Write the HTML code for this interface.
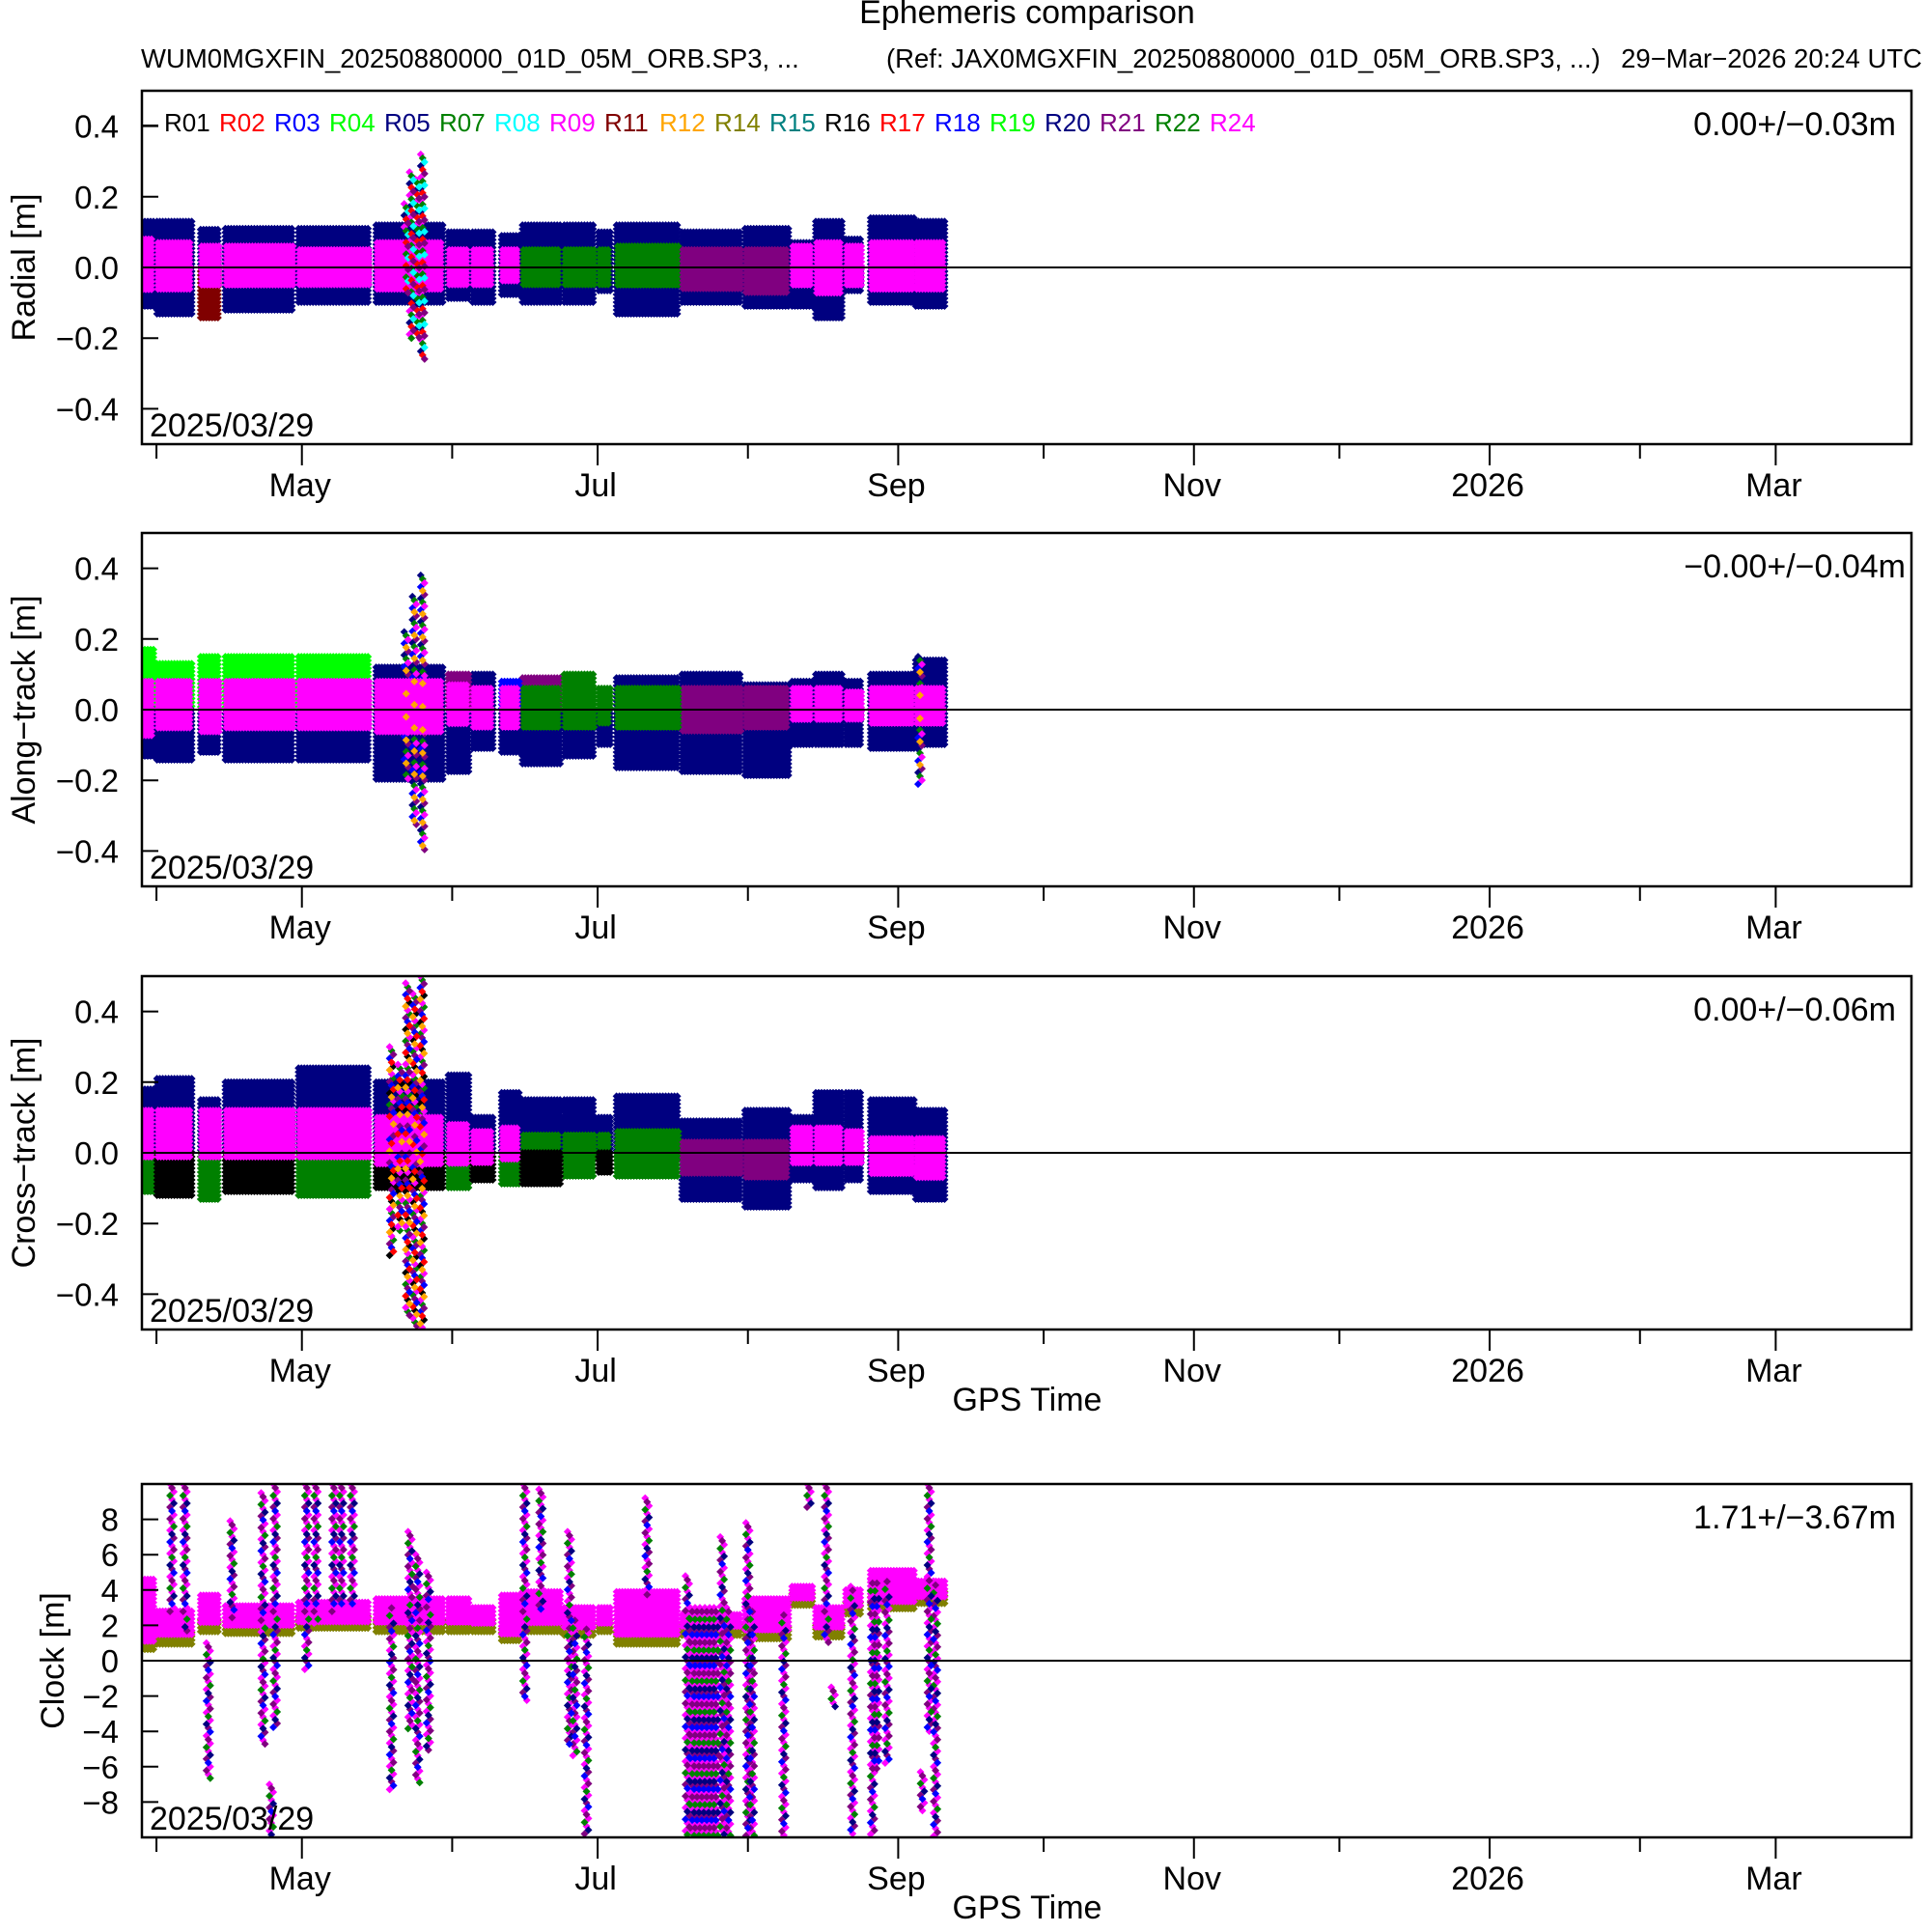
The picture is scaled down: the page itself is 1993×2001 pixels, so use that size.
<!DOCTYPE html>
<html><head><meta charset="utf-8"><title>Ephemeris comparison</title>
<style>
html,body{margin:0;padding:0;background:#fff;}
svg{display:block;font-family:"Liberation Sans",Arial,sans-serif;}
</style></head>
<body>
<svg id="chart" width="1993" height="2001" viewBox="0 0 1993 2001" xmlns="http://www.w3.org/2000/svg">
<text x="1064" y="24" font-size="34" text-anchor="middle">Ephemeris comparison</text>
<text x="146" y="70" font-size="27.5">WUM0MGXFIN_20250880000_01D_05M_ORB.SP3, ...</text>
<text x="918" y="70" font-size="27.5">(Ref: JAX0MGXFIN_20250880000_01D_05M_ORB.SP3, ...)</text>
<text x="1991" y="70" font-size="27.5" text-anchor="end">29−Mar−2026 20:24 UTC</text>
<g id="panels"></g>
</svg>
<script>
// ---- data ----
const sats = ["R01","R02","R03","R04","R05","R07","R08","R09","R11","R12","R14","R15","R16","R17","R18","R19","R20","R21","R22","R24"];
const satColors = ["#000000","#ff0000","#0000ff","#00ff00","#000080","#008000","#00ffff","#ff00ff","#800000","#ffa500","#808000","#008080","#000000","#ff0000","#0000ff","#00ff00","#000080","#800080","#008000","#ff00ff"];
const monthTickDays = [3,33,64,94,125,156,186,217,247,278,309,337];
const monthTickLabels = ["","May","","Jul","","Sep","","Nov","","2026","","Mar"];
const arcStart = [0,3.1,12.1,17.2,32.3,48.3,63.2,68.2,74.2,78.5,87.1,94.2,97.9,111.4,124.4,134.1,139,145.2,150.3,159.6];
const arcEnd   = [2.4,10.5,16.2,31.5,47.2,62.3,67.7,72.5,78,86.6,93.6,96.9,110.9,123.8,133.6,138.4,144.4,148.7,159.5,165.7];
const coreSat  = [7,7,7,7,7,7,7,7,7,18,18,18,18,17,17,7,7,7,7,7];
// radial
const radHi = [0.13,0.13,0.107,0.11,0.11,0.12,0.1,0.1,0.09,0.12,0.12,0.1,0.12,0.1,0.11,0.07,0.13,0.08,0.14,0.13];
const radLo = [-0.115,-0.14,-0.15,-0.125,-0.105,-0.1,-0.09,-0.1,-0.08,-0.1,-0.1,-0.07,-0.14,-0.1,-0.12,-0.11,-0.15,-0.07,-0.1,-0.11];
const radCoreHi = [0.08,0.07,0.06,0.06,0.05,0.07,0.05,0.05,0.05,0.05,0.05,0.05,0.06,0.05,0.05,0.06,0.07,0.06,0.07,0.07];
const radCoreLo = [-0.07,-0.07,-0.05,-0.05,-0.05,-0.07,-0.05,-0.05,-0.04,-0.05,-0.05,-0.05,-0.06,-0.06,-0.08,-0.06,-0.08,-0.05,-0.07,-0.07];
const radSpikeDay = [54.5,55.6,56.8,57.9];
const radSpikeHi = [0.18,0.27,0.25,0.32];
const radSpikeLo = [-0.08,-0.2,-0.2,-0.27];
// along-track
const alHi = [0.17,0.13,0.15,0.15,0.15,0.12,0.1,0.1,0.08,0.09,0.1,0.06,0.09,0.1,0.07,0.08,0.1,0.08,0.1,0.14];
const alLo = [-0.14,-0.15,-0.13,-0.15,-0.15,-0.2,-0.18,-0.12,-0.13,-0.16,-0.14,-0.1,-0.17,-0.18,-0.19,-0.1,-0.1,-0.1,-0.12,-0.1];
const alUpperSat = [3,3,3,3,3,4,17,4,2,17,18,18,4,4,4,4,4,4,4,4];
const alCoreHi = [0.08,0.08,0.08,0.08,0.08,0.08,0.07,0.06,0.06,0.06,0.06,0.05,0.06,0.06,0.06,0.06,0.06,0.05,0.06,0.06];
const alCoreLo = [-0.08,-0.06,-0.07,-0.06,-0.06,-0.07,-0.05,-0.05,-0.05,-0.05,-0.05,-0.04,-0.06,-0.07,-0.06,-0.03,-0.03,-0.03,-0.04,-0.04];
const alSpikeDay = [54.5,56.2,57.9,160.5];
const alSpikeHi = [0.22,0.32,0.38,0.15];
const alSpikeLo = [-0.2,-0.33,-0.4,-0.22];
// cross-track
const crHi = [0.18,0.21,0.15,0.2,0.24,0.2,0.22,0.1,0.17,0.15,0.15,0.1,0.16,0.09,0.12,0.1,0.17,0.17,0.15,0.12];
const crLo = [-0.12,-0.13,-0.14,-0.12,-0.13,-0.1,-0.1,-0.08,-0.09,-0.09,-0.07,-0.06,-0.07,-0.14,-0.16,-0.08,-0.1,-0.08,-0.12,-0.14];
const crCoreHi = [0.12,0.12,0.12,0.12,0.12,0.1,0.08,0.06,0.07,0.05,0.05,0.05,0.06,0.03,0.03,0.07,0.07,0.06,0.04,0.04];
const crCoreLo = [-0.02,-0.02,-0.02,-0.02,-0.02,-0.04,-0.03,-0.03,-0.02,-0.02,-0.02,-0.02,-0.02,-0.06,-0.07,-0.03,-0.03,-0.03,-0.06,-0.07];
const crSpikeDay = [51.5,53.2,54.8,56.3,57.8];
const crSpikeHi = [0.3,0.25,0.48,0.45,0.5];
const crSpikeLo = [-0.3,-0.22,-0.46,-0.49,-0.5];
// clock
const clkHi = [4.6,2.8,3.7,3.1,3.3,3.5,3.5,3.0,3.7,3.9,3.0,3.0,3.9,2.6,3.5,4.2,3.0,4.0,5.1,4.5];
const clkLo = [1.0,1.3,2.0,1.9,2.2,2.0,2.0,2.0,1.5,2.0,1.8,2.0,1.3,1.8,1.6,3.5,1.7,3.0,3.3,3.6];
const clkSpikeDay = [6.2,8.9,13.7,18.6,25,26.7,27.5,34,35.9,39.6,41.2,43.4,51.5,55.3,56.9,59.1,79,82.3,88.2,89.3,91.7,104.2,112.5,113.5,114.5,115.5,116.5,117.5,118.4,119.7,121,125,125.9,132.4,137.6,141.2,142.6,146.6,150.7,151.6,153.7,161,162.4,163.7];
const clkSpikeHi  = [10,10,1,7.9,9.5,-7,10,10,10,10,10,10,3.2,7.3,6,5,10,9.7,7.3,2.5,2,9.2,4.8,3,3,3,3,3,3,7,3,7.8,3,2.8,10,10,-1.5,4.2,4.6,4.6,4.7,-6.3,10,4.5];
const clkSpikeLo  = [2.5,1.5,-6.8,2,-4.9,-10,-3.8,-0.5,2,2.5,3,3,-7.3,-4,-7,-5.2,-2.4,2.5,-4.9,-5.5,-10,3.4,-10,-10,-10,-10,-10,-10,-10,-10,-10,-10,-10,-10,8.6,1,-2.6,-10,-10,-6.3,-6,-8.7,-4,-10];

// ---- layout ----
const X0=147, X1=1980, DAYS=365, PH=366;
const xOf = d => X0 + d*(X1-X0)/DAYS;
const NS="http://www.w3.org/2000/svg";
const root=document.getElementById('panels');
function mk(tag,attrs,parent){const e=document.createElementNS(NS,tag);for(const k in attrs)e.setAttribute(k,attrs[k]);(parent||root).appendChild(e);return e;}

function diamond(x,y,r){return `M${x.toFixed(1)} ${(y-r).toFixed(1)}L${(x+r).toFixed(1)} ${y.toFixed(1)}L${x.toFixed(1)} ${(y+r).toFixed(1)}L${(x-r).toFixed(1)} ${y.toFixed(1)}Z`;}

function drawPanel(p){
  const top=p.top, vmax=p.vmax;
  const yOf = v => top + (vmax - v)/(2*vmax)*PH;
  const g=mk('g',{});
  
  
  const cid='clip-'+p.name;
  const cp=mk('clipPath',{id:cid},g); mk('rect',{x:X0,y:top,width:X1-X0,height:PH},cp);
  const marks=mk('g',{'clip-path':`url(#${cid})`},g);
  
  
  const paths={};
  const add=(col,d)=>{(paths[col]=paths[col]||[]).push(d);};
  const band=(d0,d1,v0,v1,col,sx,sy,r)=>{
    if(v1<=v0) return;
    const xa=xOf(d0), xb=xOf(d1), ya=yOf(v1), yb=yOf(v0);
    for(let x=xa;x<=xb;x+=sx) for(let y=ya;y<=yb;y+=sy) add(col,diamond(x,y,r));
  };
  for(let i=0;i<arcStart.length;i++){
    if(p.single){
      band(arcStart[i],arcEnd[i],p.lo[i]-0.4,p.lo[i]+0.3,'#808000',3,4,4);
      band(arcStart[i],arcEnd[i],p.lo[i],p.hi[i],p.upperCol(i),3,4,4);
    } else {
      band(arcStart[i],arcEnd[i],0,p.hi[i],p.upperCol(i),3,4,4);
      band(arcStart[i],arcEnd[i],p.lo[i],0,p.lowerCol(i),3,4,4);
    }
  }
  if(p.spikeDay){
    const cyc=p.spikeCols;
    for(let j=0;j<p.spikeDay.length;j++){
      const x=xOf(p.spikeDay[j]); const ya=yOf(p.spikeHi[j]), yb=yOf(p.spikeLo[j]);
      let k=0;
      for(let y=ya;y<=yb;y+=4){ add(cyc[k%cyc.length],diamond(x+((k%3)-1)*2,y,4)); k++; }
    }
  }
  if(p.coreHi){
    for(let i=0;i<arcStart.length;i++){
      band(arcStart[i]+0.2,arcEnd[i]-0.2,p.coreLo[i],p.coreHi[i],satColors[coreSat[i]],3,4,4);
    }
  }
  for(const c of Object.keys(paths)){
    const pe=mk('path',{d:paths[c].join(''),fill:c},marks);
    
    
  }
  const zl=mk('line',{x1:X0,x2:X1,y1:yOf(0),y2:yOf(0),stroke:'#000','stroke-width':2},g);
  
  
  const bx=mk('rect',{x:X0,y:top,width:X1-X0,height:PH,fill:'none',stroke:'#000','stroke-width':2.5},g);
  
  
  for(const t of p.ticks){
    const y=yOf(t);
    mk('line',{x1:X0,x2:X0+17,y1:y,y2:y,stroke:'#000','stroke-width':2},g);
    const tl=mk('text',{x:123,y:y+12,'font-size':33,'text-anchor':'end'},g);
    tl.textContent=p.fmt(t);
    
    
  }
  const bot=top+PH;
  for(let i=0;i<monthTickDays.length;i++){
    const x=xOf(monthTickDays[i]); const lab=monthTickLabels[i];
    mk('line',{x1:x,x2:x,y1:bot,y2:bot+(lab?22:15),stroke:'#000','stroke-width':2},g);
    if(lab){const t=mk('text',{x:x-2,y:bot+54,'font-size':34,'text-anchor':'middle'},g);t.textContent=lab;
      
      }
  }
  const yt=mk('text',{x:0,y:0,'font-size':34,'text-anchor':'middle',transform:`translate(${p.titleX},${top+PH/2}) rotate(-90)`},g);
  yt.textContent=p.title;
  
  
  const st=mk('text',{x:p.statX,y:top+46,'font-size':34,'text-anchor':'end'},g);
  st.textContent=p.stat;
  
  
  const dt=mk('text',{x:155,y:bot-8,'font-size':34},g);
  dt.textContent='2025/03/29';
  
  
  if(p.xTitle){
    const xt=mk('text',{x:1064,y:bot+84,'font-size':34,'text-anchor':'middle'},g);
    xt.textContent='GPS Time';
    
    
  }
}
const fmtM=t=>(t<0?'−':'')+Math.abs(t).toFixed(1);
const fmtC=t=>(t<0?'−':'')+Math.abs(t).toFixed(0);
const NAVY='#000080';
drawPanel({name:'radial',top:94,vmax:0.5,hi:radHi,lo:radLo,coreHi:radCoreHi,coreLo:radCoreLo,
  upperCol:()=>NAVY,lowerCol:i=>i===2?'#800000':NAVY,spikeDay:radSpikeDay,spikeHi:radSpikeHi,spikeLo:radSpikeLo,
  spikeCols:['#ff00ff','#008000','#00ffff','#000080','#ff0000','#800080'],
  ticks:[-0.4,-0.2,0,0.2,0.4],fmt:fmtM,title:'Radial [m]',titleX:36,stat:'0.00+/−0.03m',statX:1964});
drawPanel({name:'along-track',top:552,vmax:0.5,hi:alHi,lo:alLo,coreHi:alCoreHi,coreLo:alCoreLo,
  upperCol:i=>satColors[alUpperSat[i]],lowerCol:()=>NAVY,spikeDay:alSpikeDay,spikeHi:alSpikeHi,spikeLo:alSpikeLo,
  spikeCols:['#000080','#008000','#ff00ff','#0000ff','#ffa500','#800080'],
  ticks:[-0.4,-0.2,0,0.2,0.4],fmt:fmtM,title:'Along−track [m]',titleX:36,stat:'−0.00+/−0.04m',statX:1974});
drawPanel({name:'cross-track',top:1011,vmax:0.5,hi:crHi,lo:crLo,coreHi:crCoreHi,coreLo:crCoreLo,
  upperCol:()=>NAVY,lowerCol:i=>i<13?(i%2?'#000000':'#008000'):NAVY,spikeDay:crSpikeDay,spikeHi:crSpikeHi,spikeLo:crSpikeLo,
  spikeCols:['#ff00ff','#008000','#800080','#0000ff','#ff0000','#000000','#ffa500'],
  ticks:[-0.4,-0.2,0,0.2,0.4],fmt:fmtM,title:'Cross−track [m]',titleX:36,stat:'0.00+/−0.06m',statX:1964,xTitle:true});
drawPanel({name:'clock',top:1537,vmax:10,hi:clkHi,lo:clkLo,coreHi:null,single:true,
  upperCol:()=>'#ff00ff',lowerCol:()=>'#808000',spikeDay:clkSpikeDay,spikeHi:clkSpikeHi,spikeLo:clkSpikeLo,
  spikeCols:['#ff00ff','#800080','#ff00ff','#008000','#ff00ff','#000080','#800080','#0000ff'],
  ticks:[-8,-6,-4,-2,0,2,4,6,8],fmt:fmtC,title:'Clock [m]',titleX:66,stat:'1.71+/−3.67m',statX:1964,xTitle:true});

const leg=mk('g',{});


mk('line',{x1:X0,x2:X0+17,y1:130,y2:130,stroke:'#000','stroke-width':2},leg);
for(let i=0;i<sats.length;i++){
  const t=mk('text',{x:170+i*57.0,y:136,'font-size':26,fill:satColors[i]},leg);
  t.textContent=sats[i];
  
  
}
</script>
</body></html>
